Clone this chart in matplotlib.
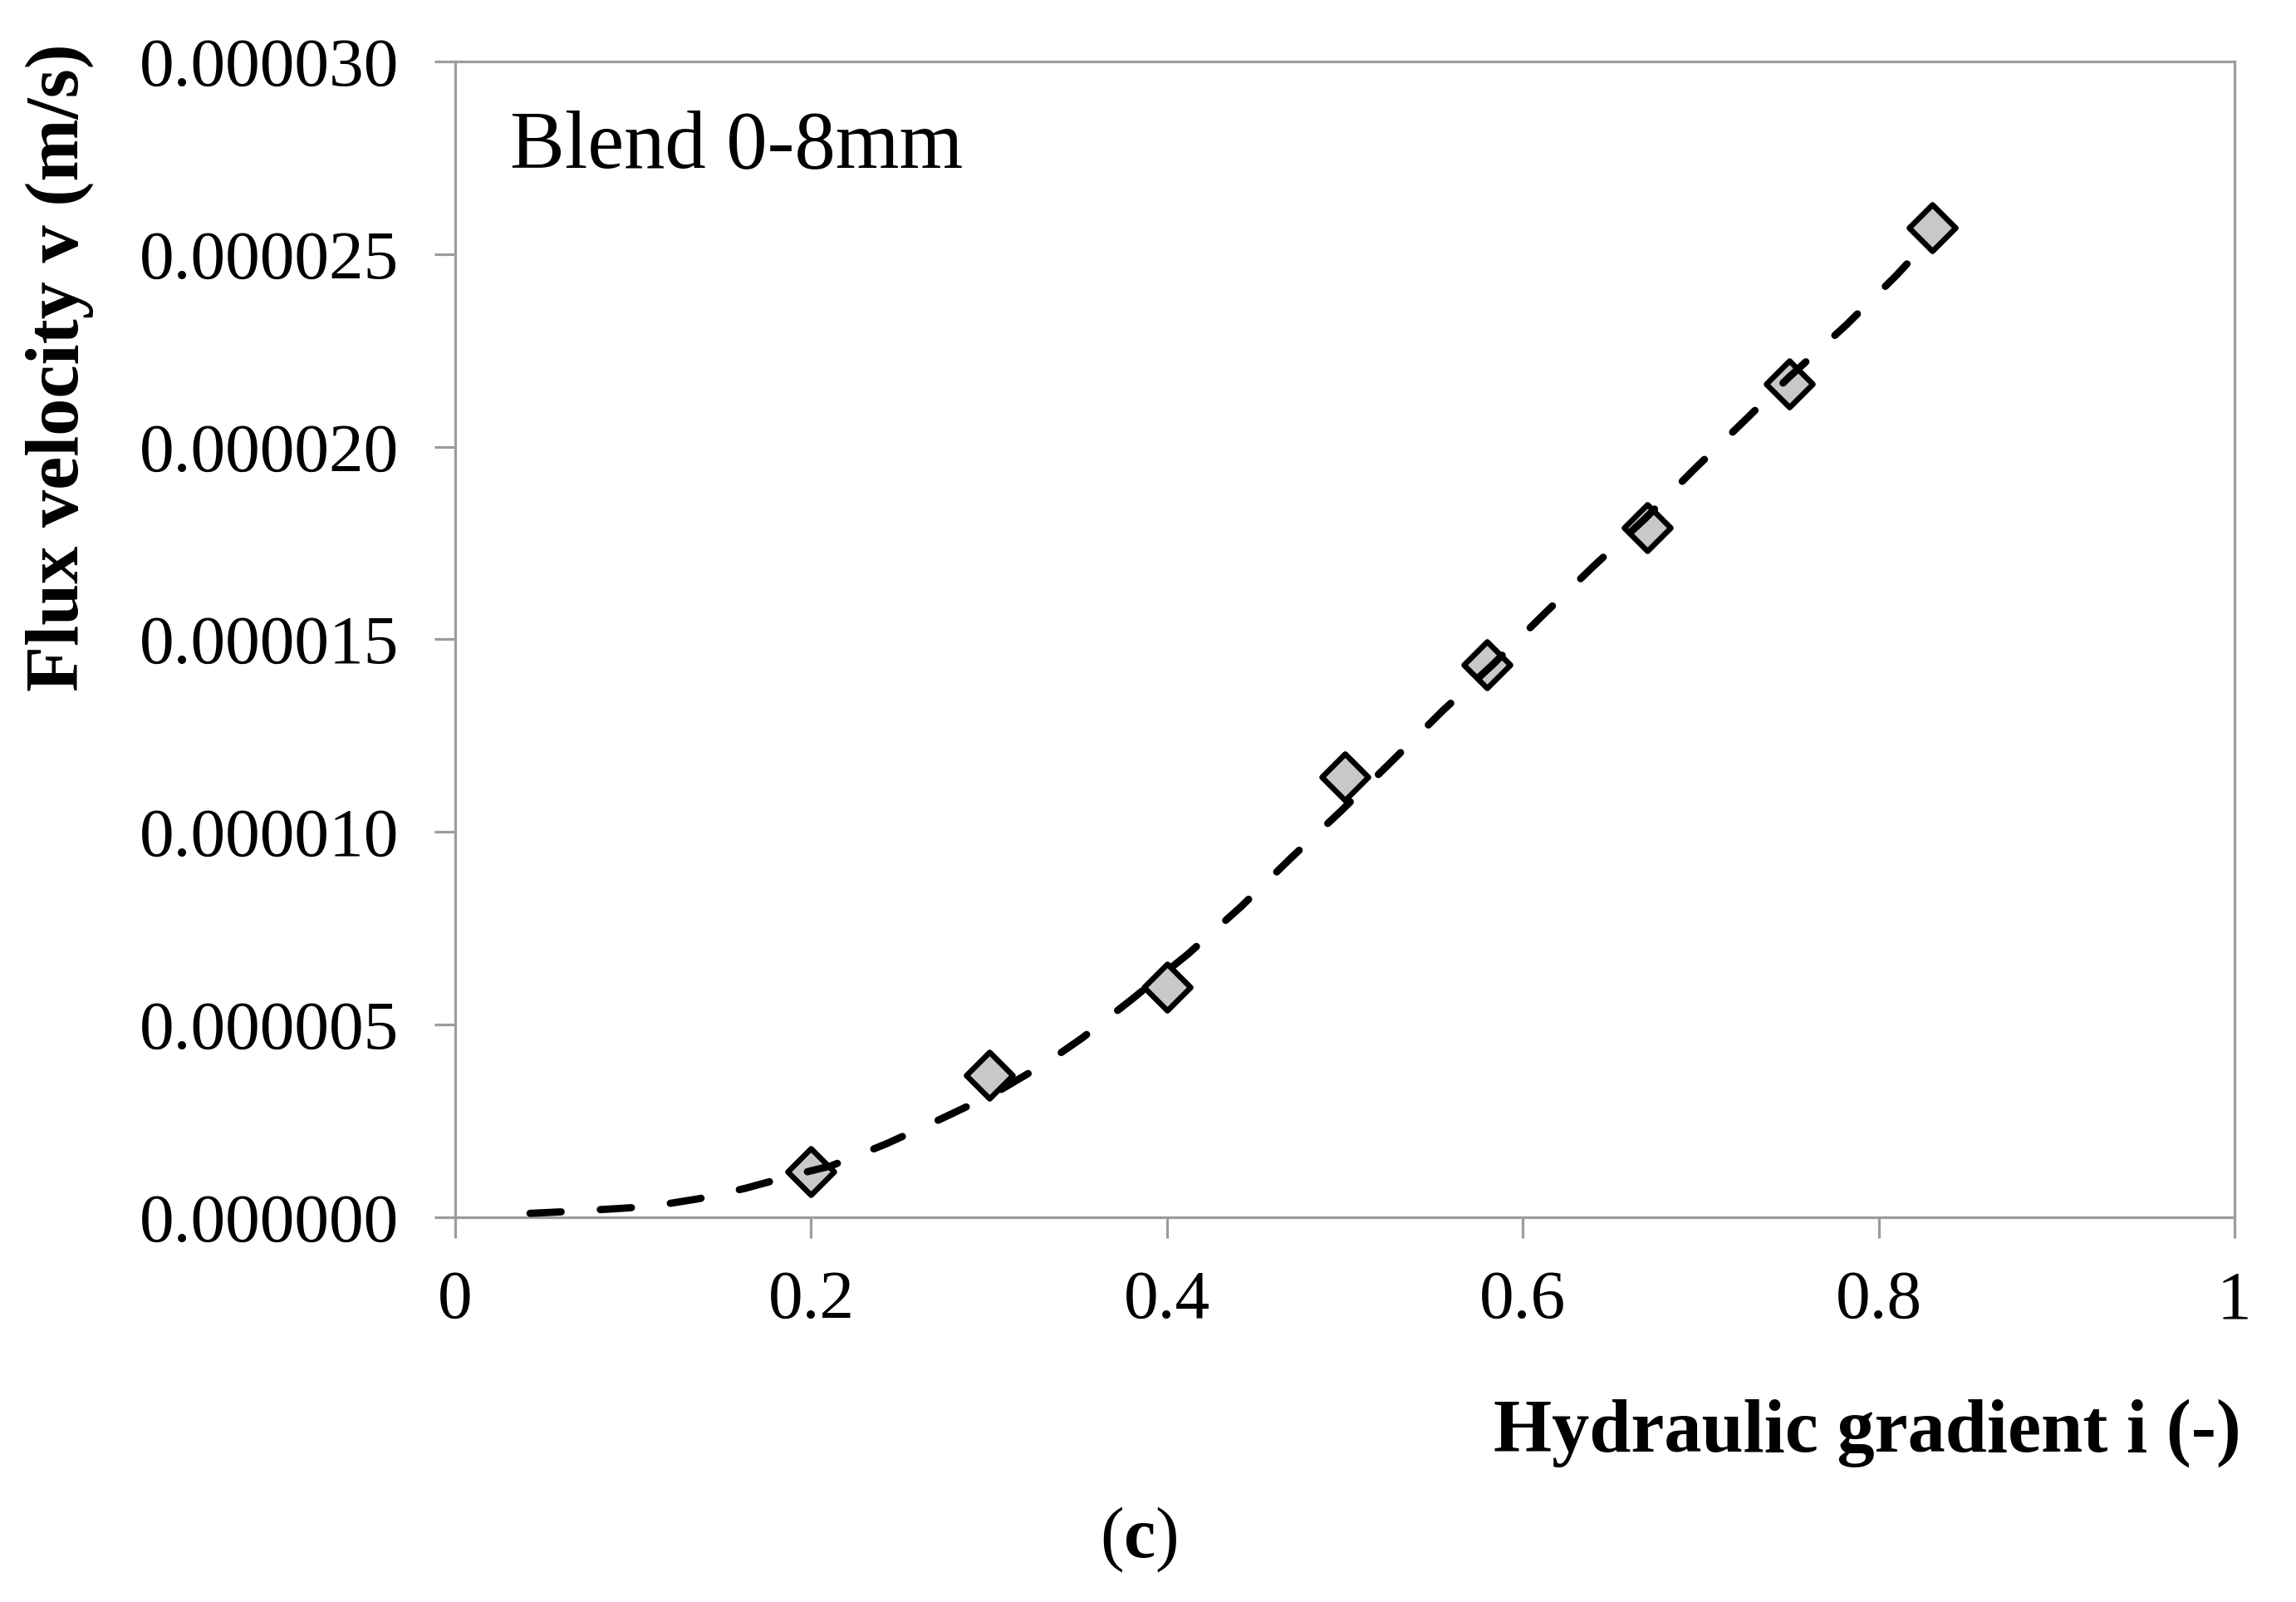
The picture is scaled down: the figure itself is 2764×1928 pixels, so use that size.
import numpy as np
import matplotlib
matplotlib.use("Agg")
import matplotlib.pyplot as plt
from matplotlib.markers import MarkerStyle

gradient = [0.20, 0.30, 0.40, 0.50, 0.58, 0.67, 0.75, 0.83]
velocity = [1.19e-6, 3.69e-6, 5.97e-6, 11.43e-6, 14.35e-6, 17.9e-6, 21.63e-6, 25.68e-6]

# dashed trendline
trend_gradient = [0.042, 0.06, 0.09, 0.11, 0.137, 0.163, 0.19, 0.211, 0.227,
                  0.2425, 0.272, 0.303, 0.3326, 0.352, 0.379, 0.4118, 0.4416,
                  0.4696, 0.4977, 0.5265, 0.555, 0.583, 0.612, 0.640, 0.668,
                  0.696, 0.724, 0.7495, 0.782, 0.810, 0.83]
trend_velocity = [0.10, 0.14, 0.22, 0.28, 0.48, 0.75, 1.09, 1.33, 1.62,
                  1.91, 2.53, 3.21, 4.02, 4.64, 5.61, 6.83, 8.06,
                  9.32, 10.54, 11.84, 13.15, 14.34, 15.66, 16.91, 18.1,
                  19.4, 20.65, 21.8, 23.17, 24.45, 25.45]  # x1e-6

x_ticks = [0, 0.2, 0.4, 0.6, 0.8, 1]
x_ticklabels = ["0", "0.2", "0.4", "0.6", "0.8", "1"]
y_ticks = [0, 5e-6, 10e-6, 15e-6, 20e-6, 25e-6, 30e-6]

plt.rcParams["font.family"] = ["Liberation Serif", "DejaVu Serif"]
plt.rcParams["mathtext.fontset"] = "custom"
plt.rcParams["mathtext.rm"] = "Liberation Serif"
plt.rcParams["mathtext.bf"] = "Liberation Serif:bold"
plt.rcParams["lines.scale_dashes"] = False

fig = plt.figure(figsize=(27.64, 19.28), dpi=100)
ax = fig.add_axes([0.1983, 0.2402, 0.7749, 0.7214])

ax.plot(trend_gradient, np.array(trend_velocity) * 1e-6, color="black", lw=6.3,
        dashes=(27, 34), dash_capstyle="round", solid_joinstyle="round",
        zorder=4)

ax.plot(gradient, velocity, linestyle="none",
        marker=MarkerStyle("D", joinstyle="round"), markersize=29,
        markerfacecolor="#c8c8c8", markeredgecolor="black",
        markeredgewidth=4.8, zorder=3)

ax.set_xlim(0, 1)
ax.set_ylim(0, 30e-6)
ax.set_xticks(x_ticks)
ax.set_xticklabels(x_ticklabels)
ax.set_yticks(y_ticks)
ax.set_yticklabels(["%.6f" % v for v in y_ticks])

spine_col = "#9c9c9c"
for s in ax.spines.values():
    s.set_color(spine_col)
    s.set_linewidth(2.3)
ax.tick_params(axis="both", direction="out", length=18, width=2.3,
               color=spine_col, labelsize=60, labelcolor="black")
ax.tick_params(axis="x", pad=28)
ax.tick_params(axis="y", pad=31)

ax.text(0.0308, 0.9087, "Blend 0-8mm", transform=ax.transAxes,
        fontsize=71, ha="left", va="baseline")

fig.text(0.026, 0.7707, "Flux velocity v (m/s)", rotation=90,
         fontsize=65, fontweight="bold", ha="center", va="center")
fig.text(0.9761, 0.0939, "Hydraulic gradient i (-)", fontsize=65,
         fontweight="bold", ha="right", va="baseline")
fig.text(0.496, 0.028, r"($\mathbf{c}$)", fontsize=62, ha="center", va="baseline")

fig.savefig("out.png", dpi=100)
